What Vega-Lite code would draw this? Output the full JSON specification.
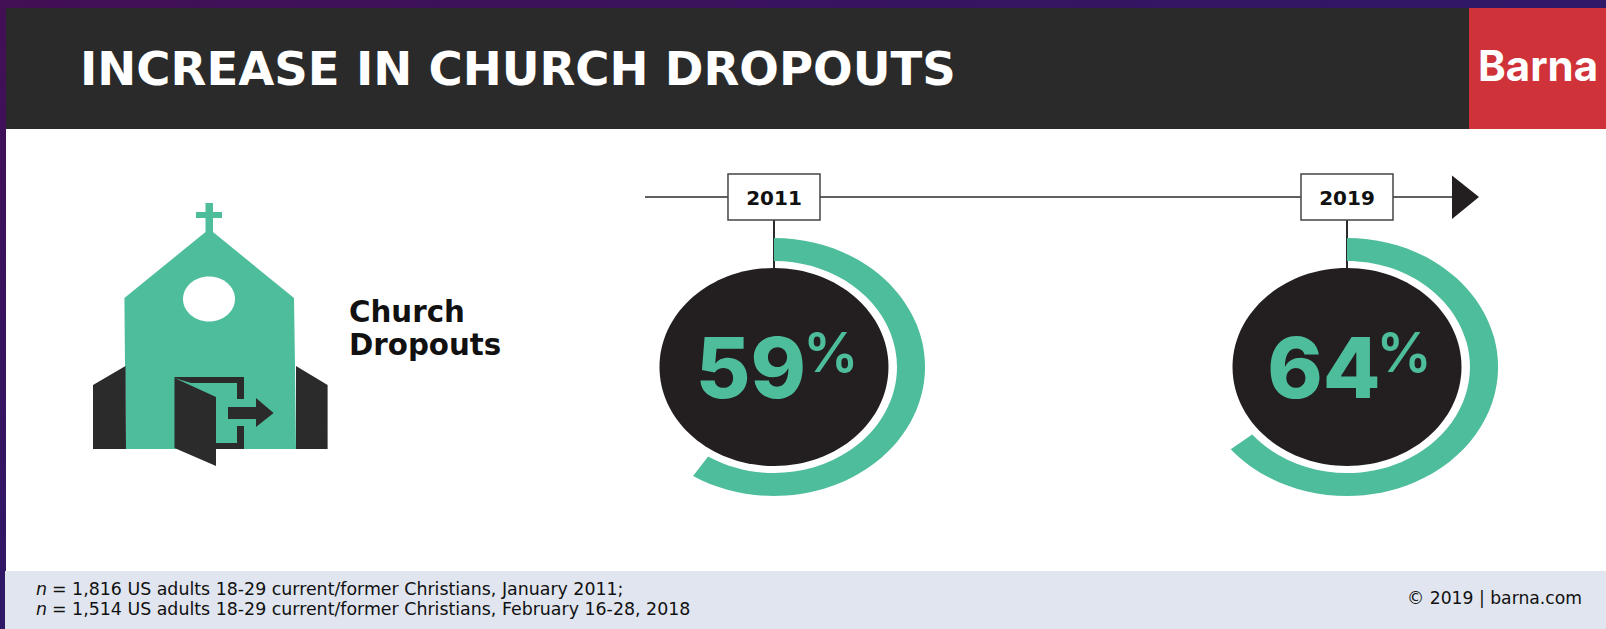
{"$schema":"https://vega.github.io/schema/vega-lite/v6.json","width":1606,"height":629,"padding":0,"autosize":{"type":"none"},"background":"#3a1160","config":{"axis":{"disable":true},"legend":{"disable":true},"view":{"stroke":null},"text":{"font":"Liberation Sans"}},"data":{"values":[{"year":2011,"share":59},{"year":2019,"share":64}]},"resolve":{"scale":{"x":"independent"}},"layer":[{"layer":[
{"data":{"values":[{"element":"page"}]},"mark":{"type":"rect","color":{"gradient":"linear","x1":0,"y1":0,"x2":1,"y2":1,"stops":[{"offset":0,"color":"#430f55"},{"offset":0.5,"color":"#2f1868"},{"offset":1,"color":"#3a1a70"}]}},"encoding":{"x":{"datum":0,"scale":{"domain":[0,1606],"nice":false}},"x2":{"datum":1606},"y":{"datum":0,"scale":{"domain":[629,0],"nice":false}},"y2":{"datum":629}}},
{"data":{"values":[{"element":"body"}]},"mark":{"type":"rect","color":"#ffffff"},"encoding":{"x":{"datum":6},"x2":{"datum":1606},"y":{"datum":129},"y2":{"datum":571}}},
{"data":{"values":[{"element":"header"}]},"mark":{"type":"rect","color":"#2a2a2a"},"encoding":{"x":{"datum":6},"x2":{"datum":1469},"y":{"datum":8},"y2":{"datum":129}}},
{"data":{"values":[{"element":"brand"}]},"mark":{"type":"rect","color":"#cf3339"},"encoding":{"x":{"datum":1469},"x2":{"datum":1606},"y":{"datum":8},"y2":{"datum":129}}},
{"data":{"values":[{"element":"footer"}]},"mark":{"type":"rect","color":"#e0e5ef"},"encoding":{"x":{"datum":5},"x2":{"datum":1606},"y":{"datum":571},"y2":{"datum":629}}},
{"data":{"values":[{"label":"INCREASE IN CHURCH DROPOUTS"}]},"mark":{"type":"text","font":"DejaVu Sans","fontWeight":"bold","fontSize":46.6,"color":"#ffffff","align":"left","baseline":"alphabetic"},"encoding":{"x":{"datum":80},"y":{"datum":85},"text":{"field":"label"}}},
{"data":{"values":[{"label":"Barna"}]},"mark":{"type":"text","font":"Inter","fontWeight":"bold","fontSize":42,"color":"#ffffff","align":"left","baseline":"alphabetic"},"encoding":{"x":{"datum":1478},"y":{"datum":81},"text":{"field":"label"}}},
{"data":{"values":[{"element":"church body"}]},"mark":{"type":"point","filled":true,"opacity":1,"size":4,"color":"#4dbd9c","shape":"M-3.5,-137 L4,-137 L4,-128 L13,-128 L13,-122 L4,-122 L4,-108 L85,-42 L86,26 L87,109 L-83,109 L-84,26 L-84.6,-42 L-3.5,-108 L-3.5,-122 L-13,-122 L-13,-128 L-3.5,-128 Z"},"encoding":{"x":{"datum":209},"y":{"datum":340}}},
{"data":{"values":[{"element":"church window"}]},"mark":{"type":"point","filled":true,"opacity":1,"size":4,"color":"#ffffff","shape":"M-26,-41 A26,22.5 0 1 1 26,-41 A26,22.5 0 1 1 -26,-41 Z"},"encoding":{"x":{"datum":209},"y":{"datum":340}}},
{"data":{"values":[{"element":"church door and wings"}]},"mark":{"type":"point","filled":true,"opacity":1,"size":4,"color":"#2b2b2b","shape":"M-116,45 L-83.5,26 L-83,109 L-116,109 Z M87,26 L118.6,45 L118.6,109 L87,109 Z M-34.5,38 L7,57 L7,126 L-34.5,108 Z M-34.5,37 L35,37 L35,59 L28,59 L28,43 L-18,43 L-34.5,38 Z M28,86 L35,86 L35,109 L7,109 L7,103 L28,103 Z M19,67 L47,67 L47,58 L64.6,73 L47,87 L47,79 L19,79 Z"},"encoding":{"x":{"datum":209},"y":{"datum":340}}},
{"data":{"values":[{"label":"Church\nDropouts"}]},"mark":{"type":"text","font":"DejaVu Sans","fontWeight":"bold","fontSize":29.3,"lineBreak":"\n","lineHeight":33,"color":"#111111","align":"left","baseline":"alphabetic"},"encoding":{"x":{"datum":349},"y":{"datum":322},"text":{"field":"label"}}},
{"data":{"values":[{"element":"timeline"}]},"mark":{"type":"rule","color":"#2b2b2b","strokeWidth":1.5},"encoding":{"x":{"datum":645},"x2":{"datum":1455},"y":{"datum":197}}},
{"data":{"values":[{"element":"arrowhead"}]},"mark":{"type":"point","filled":true,"opacity":1,"size":4,"color":"#231f20","shape":"M0,-21.5 L27,0 L0,22 Z"},"encoding":{"x":{"datum":1452},"y":{"datum":197}}},
{"data":{"values":[{"line":"n"}]},"mark":{"type":"text","font":"DejaVu Sans","fontStyle":"italic","fontSize":17.4,"color":"#111111","align":"left","baseline":"alphabetic"},"encoding":{"x":{"datum":36},"y":{"datum":595},"text":{"field":"line"}}},
{"data":{"values":[{"line":"n"}]},"mark":{"type":"text","font":"DejaVu Sans","fontStyle":"italic","fontSize":17.4,"color":"#111111","align":"left","baseline":"alphabetic"},"encoding":{"x":{"datum":36},"y":{"datum":615},"text":{"field":"line"}}},
{"data":{"values":[{"line":"= 1,816 US adults 18-29 current/former Christians, January 2011;"}]},"mark":{"type":"text","font":"DejaVu Sans","fontSize":17.4,"color":"#111111","align":"left","baseline":"alphabetic"},"encoding":{"x":{"datum":52},"y":{"datum":595},"text":{"field":"line"}}},
{"data":{"values":[{"line":"= 1,514 US adults 18-29 current/former Christians, February 16-28, 2018"}]},"mark":{"type":"text","font":"DejaVu Sans","fontSize":17.4,"color":"#111111","align":"left","baseline":"alphabetic"},"encoding":{"x":{"datum":52},"y":{"datum":615},"text":{"field":"line"}}},
{"data":{"values":[{"line":"© 2019 | barna.com"}]},"mark":{"type":"text","font":"DejaVu Sans","fontSize":17.2,"color":"#111111","align":"right","baseline":"alphabetic"},"encoding":{"x":{"datum":1582},"y":{"datum":604},"text":{"field":"line"}}}
]},{"layer":[
{"mark":{"type":"rule","color":"#2b2b2b","strokeWidth":2},"encoding":{"x":{"field":"year","type":"quantitative","scale":{"domain":[2000.194,2022.616],"nice":false}},"y":{"datum":220},"y2":{"datum":268}}},
{"mark":{"type":"point","filled":true,"opacity":1,"size":4,"color":"#4dbd9c"},"encoding":{"x":{"field":"year","type":"quantitative"},"y":{"datum":367},"shape":{"field":"share","type":"nominal","scale":{"domain":[59,64],"range":["M0,-129 A151,129 0 1 1 -80.9,108.9 L-65.9,89.5 A123,106 0 1 0 0,-106 Z","M0,-129 A151,129 0 1 1 -116.3,82.2 L-94.8,67.6 A123,106 0 1 0 0,-106 Z"]},"legend":null}}},
{"mark":{"type":"point","filled":true,"opacity":1,"size":4,"color":"#231f20","shape":"M-114.5,0 A114.5,99 0 1 1 114.5,0 A114.5,99 0 1 1 -114.5,0 Z"},"encoding":{"x":{"field":"year","type":"quantitative"},"y":{"datum":367}}},
{"mark":{"type":"rect","width":92,"height":46,"fill":"#ffffff","stroke":"#444444","strokeWidth":1.5},"encoding":{"x":{"field":"year","type":"quantitative"},"y":{"datum":197}}},
{"mark":{"type":"text","font":"DejaVu Sans","fontWeight":"bold","fontSize":20,"color":"#111111","align":"center","baseline":"alphabetic"},"encoding":{"x":{"field":"year","type":"quantitative"},"y":{"datum":205},"text":{"field":"year","type":"quantitative","format":"d"}}},
{"mark":{"type":"text","font":"Inter","fontWeight":800,"fontSize":84,"color":"#4dbd9c","align":"center","baseline":"alphabetic","dx":-23},"encoding":{"x":{"field":"year","type":"quantitative"},"y":{"datum":398},"text":{"field":"share","type":"quantitative"}}},
{"mark":{"type":"text","font":"Inter","fontWeight":600,"fontSize":55,"color":"#4dbd9c","align":"center","baseline":"alphabetic","dx":57,"text":"%"},"encoding":{"x":{"field":"year","type":"quantitative"},"y":{"datum":372}}}
]}]}
